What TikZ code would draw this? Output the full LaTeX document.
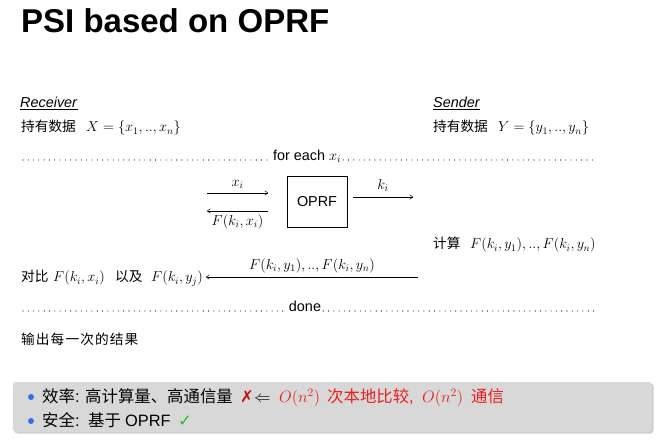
\RequirePackage{fix-cm}
\documentclass[tikz,border=0pt]{standalone}
\usepackage{fontspec}
\setmainfont{Liberation Sans}
\newfontfamily\cjk{Noto Sans CJK SC}[Scale=0.95]
\newfontfamily\cjkm{Noto Sans CJK SC}[Scale=0.95,LetterSpace=8]
\newfontfamily\cjkb{Noto Sans CJK SC}
\newfontfamily\symf{DejaVu Sans}
\usetikzlibrary{shadows,arrows.meta}
\definecolor{boxgray}{RGB}{216,216,216}
\definecolor{redtxt}{RGB}{235,30,30}
\definecolor{bulletblue}{RGB}{60,110,235}
\definecolor{checkgreen}{RGB}{40,190,40}
\definecolor{crossred}{RGB}{190,20,20}
\newcommand{\seg}[2]{\makebox[#1pt][l]{#2}}
\begin{document}
\begin{tikzpicture}[x=1pt,y=-1pt,
  every node/.style={inner sep=0pt,font=\fontsize{14.4}{17}\selectfont},
  txt/.style={anchor=base west},
  boxtxt/.style={anchor=base west,font=\fontsize{16.4}{19}\selectfont},
  dotline/.style={line width=1.1pt,dash pattern=on 0pt off 5.3pt,line cap=round},
  msg/.style={line width=0.5pt,-{To[length=3.5pt,width=5pt]}},
  bul/.style={circle,fill=bulletblue,minimum size=6pt,inner sep=0pt}]
\useasboundingbox (0,0) rectangle (661,446);
\node[txt,font=\fontsize{33}{38}\selectfont\bfseries] (title) at (21,33) {PSI based on OPRF};
% parties
\node[txt] (recv) at (20,108) {\underline{\textit{Receiver}}};
\node[txt] (recvdata) at (21,132) {\seg{65}{\cjk 持有数据}$X=\{x_1,..,x_n\}$};
\node[txt] (send) at (433,108) {\underline{\textit{Sender}}};
\node[txt] (senddata) at (433,132) {\seg{65}{\cjk 持有数据}$Y=\{y_1,..,y_n\}$};
% for each
\node (foreach) at (307,156) {for each $x_i$};
\coordinate (d1l) at (23,160);
\coordinate (d1r) at (597,160);
\draw[dotline] (d1l) -- ([xshift=-2pt]foreach.west |- d1l);
\draw[dotline] ([xshift=2pt]foreach.east |- d1r) -- (d1r);
% OPRF
\node[draw,line width=0.6pt,minimum width=60pt,minimum height=51pt] (oprf) at (317,201.5) {OPRF};
\coordinate (a1s) at (207,193);
\coordinate (a1e) at (268,193);
\draw[msg] (a1s) -- node[above=4pt] (lx) {$x_i$} (a1e);
\coordinate (a2s) at (268,211);
\coordinate (a2e) at (207,211);
\draw[msg] (a2s) -- node[below=3pt] (lf) {$F(k_i,x_i)$} (a2e);
\coordinate (a3s) at (353,197);
\coordinate (a3e) at (413,197);
\draw[msg] (a3s) -- node[above=5pt] (lk) {$k_i$} (a3e);
% compute
\node[txt] (calc) at (433,249) {\seg{37}{\cjk 计算}$F(k_i,y_1),..,F(k_i,y_n)$};
\node[txt] (cmp) at (21,282) {\seg{32}{\cjk 对比}\seg{62}{$F(k_i,x_i)$}\seg{36}{\cjk 以及}$F(k_i,y_j)$};
\coordinate (a4s) at (418,277);
\coordinate (a4e) at (206,277);
\draw[msg] (a4s) -- node[above=4pt] (lfy) {$F(k_i,y_1),..,F(k_i,y_n)$} (a4e);
% done
\node[anchor=base] (done) at (305,312) {done};
\coordinate (d2l) at (23,311);
\coordinate (d2r) at (597,311);
\draw[dotline] (d2l) -- ([xshift=-2pt]done.west |- d2l);
\draw[dotline] ([xshift=2pt]done.east |- d2r) -- (d2r);
\node[txt] (out) at (21,344) {\cjkm 输出每一次的结果};
% summary box
\node[draw=none,fill=boxgray,rounded corners=3pt,drop shadow={shadow xshift=1.5pt,shadow yshift=-1.5pt,opacity=0.4},minimum width=639pt,minimum height=50pt] (box) at (332.5,407) {};
\node[bul] (b1) at (31,397) {};
\node[boxtxt] (l1) at (42,402) {\seg{43}{{\cjkb 效率}:}\seg{155}{\cjkb 高计算量、高通信量}\seg{14}{\symf\color{crossred}\bfseries ✗}\seg{25}{$\Leftarrow$}\color{redtxt}\seg{48}{$O(n^2)$}\seg{95}{{\cjkb 次本地比较},}\seg{49}{$O(n^2)$}{\cjkb 通信}};
\node[bul] (b2) at (31,421) {};
\node[boxtxt] (l2) at (42,426) {\seg{46}{{\cjkb 安全}:}\seg{37}{\cjkb 基于}\seg{53}{OPRF}{\symf\color{checkgreen}✓}};
\end{tikzpicture}
\end{document}
